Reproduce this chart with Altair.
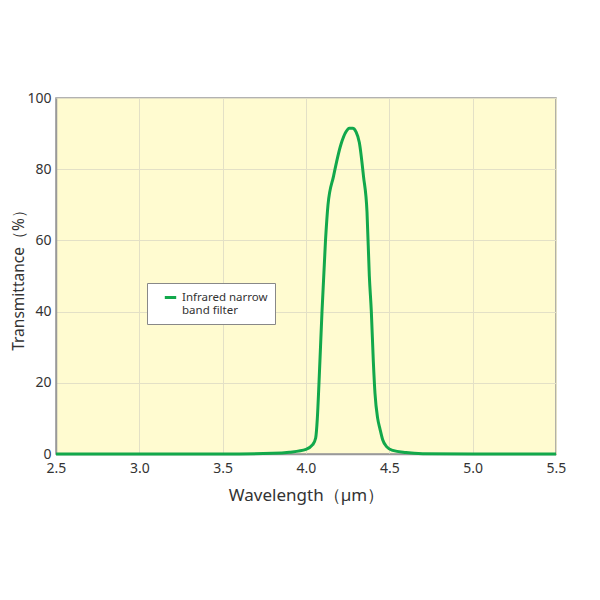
import altair as alt
import pandas as pd

# spectral curve
wavelength = [2.5, 3.5, 3.8, 3.9, 4.0, 4.04, 4.058, 4.068, 4.078, 4.096, 4.117,
              4.132, 4.165, 4.21, 4.24, 4.26, 4.28, 4.3, 4.32, 4.345, 4.366,
              4.38, 4.392, 4.404, 4.414, 4.43, 4.444, 4.46, 4.485, 4.52, 4.6,
              4.7, 5.0, 5.5]
transmittance = [0, 0, 0.2, 0.5, 1.3, 2.6, 4.5, 10, 20, 40, 60,
                 70, 78, 87, 90.5, 91.5, 91.5, 90.5, 87.5, 78, 68,
                 50, 40, 26, 17, 10, 7, 4, 2, 1, 0.4,
                 0.1, 0, 0]
series_name = "Infrared narrow band filter"
x_ticks = [2.5, 3.0, 3.5, 4.0, 4.5, 5.0, 5.5]
y_ticks = [0, 20, 40, 60, 80, 100]

df = pd.DataFrame({"wl": wavelength, "t": transmittance, "series": series_name})

font = "Noto Sans"
green = "#12a84b"

line = alt.Chart(df).mark_line(interpolate="monotone", strokeWidth=3).encode(
    x=alt.X("wl:Q", title="Wavelength（µm）",
            scale=alt.Scale(domain=[2.5, 5.5], nice=False),
            axis=alt.Axis(values=x_ticks, format=".1f")),
    y=alt.Y("t:Q", title="Transmittance（%）",
            scale=alt.Scale(domain=[0, 100], nice=False),
            axis=alt.Axis(values=y_ticks)),
    color=alt.Color("series:N", title=None,
                    scale=alt.Scale(range=[green]),
                    legend=alt.Legend(
                        orient="none", legendX=91, legendY=185,
                        fillColor="white", strokeColor="#888888",
                        padding=7, symbolType="stroke", symbolStrokeWidth=3,
                        symbolSize=130, symbolOffset=9, labelOffset=4,
                        labelFontSize=11.5, labelColor="#333333",
                        labelExpr="['Infrared narrow\u00a0\u00a0\u00a0\u00a0', 'band filter']",
                    )),
)

chart = line.properties(
    width=500,
    height=356,
    autosize=alt.AutoSizeParams(type="none"),
    padding={"left": 48, "top": 90, "right": 30, "bottom": 80},
    background="white",
).configure_view(
    fill="#fffbd0",
    stroke="#999999",
    strokeWidth=1.5,
).configure_axis(
    labelFont=font,
    titleFont=font,
    labelFontSize=14,
    titleFontSize=16,
    titleFontWeight="normal",
    labelColor="#333333",
    titleColor="#333333",
    gridColor="#e3e0c6",
    domainColor="#999999",
    domainWidth=1.5,
    ticks=False,
    labelFlush=False,
    labelPadding=7,
).configure_axisY(
    labelPadding=5,
    titlePadding=0,
    titleFontSize=15.5,
).configure_axisX(
    titlePadding=12,
    titleFontSize=17,
).configure_legend(
    labelFont=font,
)

chart.save("out.html", embed_options={"renderer": "svg", "actions": False})
